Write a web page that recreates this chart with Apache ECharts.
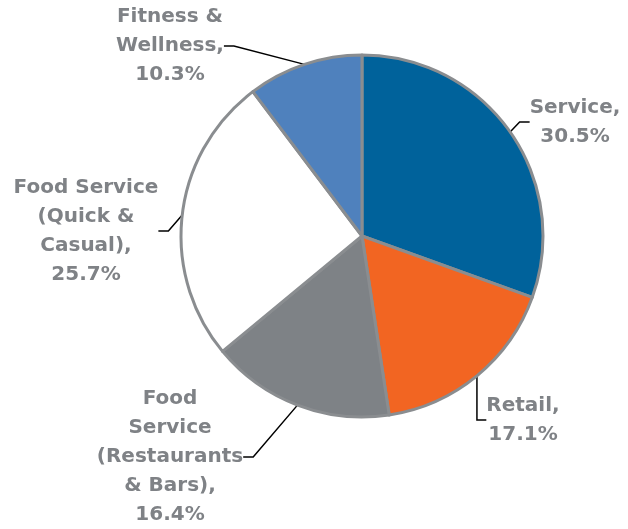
<!DOCTYPE html>
<html>
<head>
<meta charset="utf-8">
<script src="https://cdn.jsdelivr.net/npm/echarts@6/dist/echarts.min.js"></script>
<style>html,body{margin:0;padding:0;background:#fff;}#c{width:628px;height:529px;}</style>
</head>
<body>
<div id="c"></div>
<script>
const categories = ['Service', 'Retail', 'Food Service (Restaurants & Bars)', 'Food Service (Quick & Casual)', 'Fitness & Wellness'];
const values = [30.5, 17.1, 16.4, 25.7, 10.3];
const labelTexts = [
  'Service,\n30.5%',
  'Retail,\n17.1%',
  'Food\nService\n(Restaurants\n& Bars),\n16.4%',
  'Food Service\n(Quick &\nCasual),\n25.7%',
  'Fitness &\nWellness,\n10.3%'
];
const colors = ['#00629B', '#F26522', '#7E8286', '#FFFFFF', '#4F81BD'];
// label anchor positions (layout styling)
const labelPos = [[575, 122], [523, 420], [170, 457], [86, 231], [170, 46]];

const chart = echarts.init(document.getElementById('c'), null, {renderer: 'canvas'});
chart.setOption({
  animation: false,
  backgroundColor: '#fff',
  series: [{
    type: 'pie',
    center: [362, 236],
    radius: 181,
    startAngle: 90,
    clockwise: true,
    data: categories.map((c, i) => ({
      name: c,
      value: values[i],
      itemStyle: {color: colors[i]},
      label: {formatter: labelTexts[i]}
    })),
    itemStyle: {borderColor: '#8A8D90', borderWidth: 3},
    label: {
      show: true,
      position: 'outside',
      overflow: 'none',
      color: '#7F8286',
      fontFamily: 'DejaVu Sans',
      fontWeight: 'bold',
      fontSize: 20,
      lineHeight: 29,
      align: 'center'
    },
    labelLine: {
      show: true,
      length: 10,
      length2: 10,
      lineStyle: {color: '#000', width: 1.5}
    },
    labelLayout: function (p) {
      const pos = labelPos[p.dataIndex];
      return {x: pos[0], y: pos[1], align: 'center', verticalAlign: 'middle'};
    },
    emphasis: {disabled: true}
  }]
});
</script>
</body>
</html>
